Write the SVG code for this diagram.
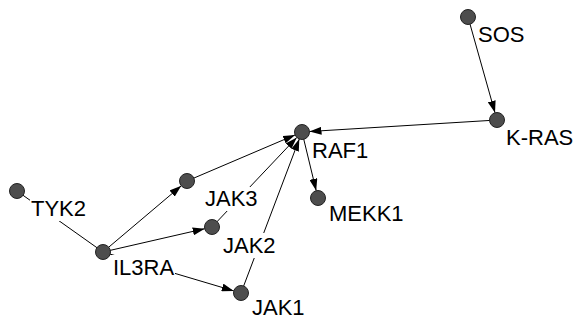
<svg xmlns="http://www.w3.org/2000/svg" width="577" height="320" viewBox="0 0 577 320">
<defs>
<style>
.e{stroke:#000;stroke-width:1;fill:none}
.a{marker-end:url(#arr)}
.n{fill:#4d4d4d;stroke:#222;stroke-width:1}
.bg{fill:#fff}
.t{font-family:"Liberation Sans",Arial,sans-serif;font-size:22px;fill:#000}
</style>
<marker id="arr" markerUnits="userSpaceOnUse" markerWidth="12" markerHeight="8" refX="12" refY="4" orient="auto">
<path d="M0,0 L12,4 L0,8 z" fill="#000"/>
</marker>
</defs>
<rect width="577" height="320" fill="#fff"/>
<g id="connectors">
<line class="e a" x1="468" y1="17" x2="495" y2="112.8"/>
<line class="e a" x1="497" y1="120" x2="309.5" y2="131.5"/>
<line class="e a" x1="302" y1="132" x2="316.2" y2="190.7"/>
<line class="e" x1="17" y1="191" x2="103" y2="252"/>
<line class="e a" x1="103" y1="252" x2="181.3" y2="185.8"/>
<line class="e a" x1="103" y1="252" x2="204.7" y2="228.7"/>
<line class="e a" x1="103" y1="252" x2="233.8" y2="290.9"/>
<line class="e a" x1="187" y1="181" x2="295.1" y2="134.9"/>
<line class="e a" x1="212" y1="227" x2="296.8" y2="137.4"/>
<line class="e a" x1="241" y1="293" x2="299.3" y2="139"/>
</g>
<g id="SOS"><circle class="n" cx="468" cy="17" r="7.5"/><rect class="bg" x="477" y="22" width="48" height="25"/><text class="t" x="478" y="42">SOS</text></g>
<g id="K-RAS"><circle class="n" cx="497" cy="120" r="7.5"/><rect class="bg" x="505" y="125" width="69" height="25"/><text class="t" x="506" y="145">K-RAS</text></g>
<g id="RAF1"><circle class="n" cx="302" cy="132" r="7.5"/><rect class="bg" x="311" y="138" width="58" height="25"/><text class="t" x="312" y="158">RAF1</text></g>
<g id="MEKK1"><circle class="n" cx="318" cy="198" r="7.5"/><rect class="bg" x="328" y="201" width="77" height="25"/><text class="t" x="329" y="221">MEKK1</text></g>
<g id="TYK2"><circle class="n" cx="17" cy="191" r="7.5"/><rect class="bg" x="30" y="196" width="57" height="25"/><text class="t" x="31" y="216">TYK2</text></g>
<g id="IL3RA"><circle class="n" cx="103" cy="252" r="7.5"/><rect class="bg" x="112" y="255" width="63" height="25"/><text class="t" x="113" y="275">IL3RA</text></g>
<g id="JAK3"><circle class="n" cx="187" cy="181" r="7.5"/><rect class="bg" x="204" y="187" width="55" height="24"/><text class="t" x="205" y="206">JAK3</text></g>
<g id="JAK2"><circle class="n" cx="212" cy="227" r="7.5"/><rect class="bg" x="222" y="233" width="55" height="25"/><text class="t" x="223" y="253">JAK2</text></g>
<g id="JAK1"><circle class="n" cx="241" cy="293" r="7.5"/><rect class="bg" x="251" y="296" width="55" height="24"/><text class="t" x="252" y="315">JAK1</text></g>
</svg>
